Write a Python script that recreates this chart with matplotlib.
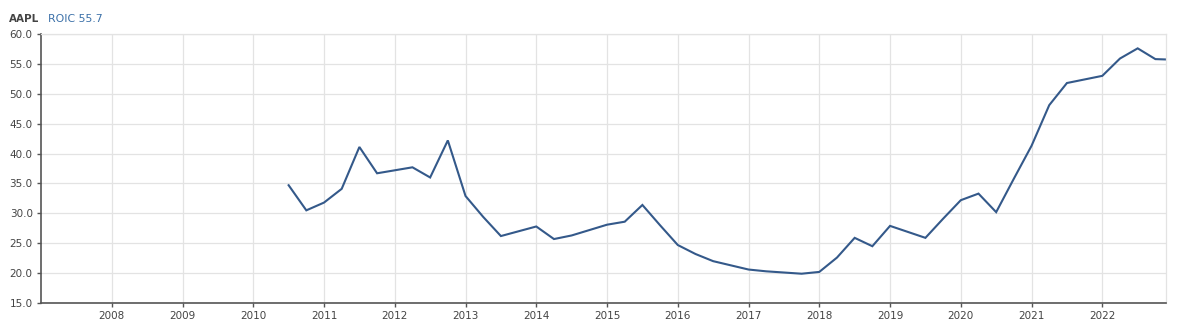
import matplotlib
matplotlib.use('Agg')
import matplotlib.pyplot as plt
from matplotlib.ticker import FormatStrFormatter

# quarterly ROIC values for AAPL
quarters = [2010.5, 2010.75, 2011.0, 2011.25, 2011.5, 2011.75, 2012.0, 2012.25,
            2012.5, 2012.75, 2013.0, 2013.25, 2013.5, 2013.75, 2014.0, 2014.25,
            2014.5, 2014.75, 2015.0, 2015.25, 2015.5, 2015.75, 2016.0, 2016.25,
            2016.5, 2016.75, 2017.0, 2017.25, 2017.5, 2017.75, 2018.0, 2018.25,
            2018.5, 2018.75, 2019.0, 2019.25, 2019.5, 2019.75, 2020.0, 2020.25,
            2020.5, 2020.75, 2021.0, 2021.25, 2021.5, 2021.75, 2022.0, 2022.25,
            2022.5, 2022.75, 2023.0]
roic = [34.7, 30.5, 31.8, 34.1, 41.1, 36.7, 37.2, 37.7,
        36.0, 42.2, 32.9, 29.4, 26.2, 27.0, 27.8, 25.7,
        26.3, 27.2, 28.1, 28.6, 31.4, 28.0, 24.7, 23.2,
        22.0, 21.3, 20.6, 20.3, 20.1, 19.9, 20.2, 22.6,
        25.9, 24.5, 27.9, 26.9, 25.9, 29.1, 32.2, 33.3,
        30.2, 35.8, 41.3, 48.1, 51.8, 52.4, 53.0, 55.9,
        57.6, 55.8, 55.7]
years = list(range(2008, 2023))
yticks = [15, 20, 25, 30, 35, 40, 45, 50, 55, 60]

ticker_name = 'AAPL'
metric_label = 'ROIC 55.7'

fig = plt.figure(figsize=(11.78, 3.36), dpi=100)
ax = fig.add_axes([0.0348, 0.0982, 0.955, 0.8006])

ax.plot(quarters, roic, color='#34598a', lw=1.5, solid_joinstyle='miter')

ax.set_xlim(2007.0, 2022.9)
ax.set_ylim(15, 60)
ax.set_xticks(years)
ax.set_xticklabels([str(y) for y in years])
ax.set_yticks(yticks)
ax.yaxis.set_major_formatter(FormatStrFormatter('%.1f'))

ax.grid(True, color='#e3e3e3', lw=0.9)
ax.set_axisbelow(True)
for s in ['top', 'right']:
    ax.spines[s].set_color('#e3e3e3')
    ax.spines[s].set_linewidth(0.9)
for s in ['left', 'bottom']:
    ax.spines[s].set_color('#555555')
    ax.spines[s].set_linewidth(1.2)
ax.tick_params(axis='both', colors='#555555', labelsize=7.5, length=3, width=1, pad=3)
ax.tick_params(axis='both', labelcolor='#444444')

fig.text(0.008, 0.944, ticker_name, fontsize=7.5, color='#444444', fontweight='bold', va='center')
fig.text(0.041, 0.944, metric_label, fontsize=7.8, color='#3b70a8', va='center')

fig.savefig('out.png', dpi=100)
